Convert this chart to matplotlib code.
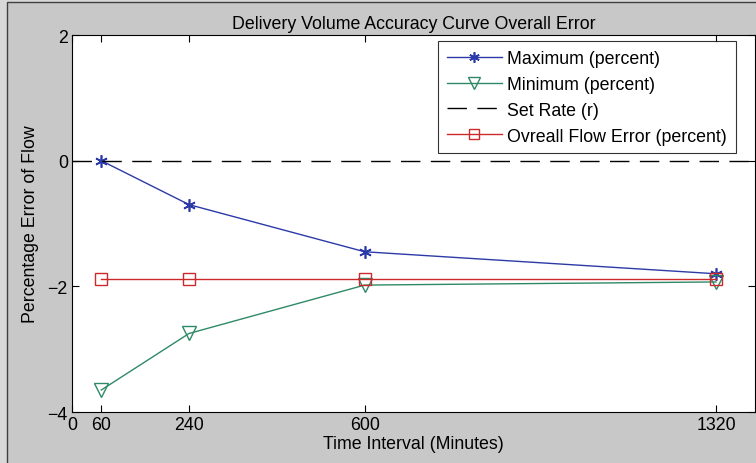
import matplotlib
matplotlib.use("Agg")
import matplotlib.pyplot as plt
from matplotlib.patches import Rectangle

# Data
time_minutes = [60, 240, 600, 1320]
max_percent = [0.0, -0.70, -1.45, -1.80]
min_percent = [-3.65, -2.75, -1.98, -1.93]
overall_percent = [-1.89, -1.89, -1.89, -1.89]
set_rate = [0, 0]
set_rate_x = [0, 1400]

x_ticks = [0, 60, 240, 600, 1320]
y_ticks = [-4, -2, 0, 2]

plt.rcParams["font.family"] = ["Liberation Sans", "DejaVu Sans"]

fig = plt.figure(figsize=(7.56, 4.64), dpi=100)
fig.patch.set_facecolor("#d8d8d8")
# MATLAB-style gray panel with a thin dark frame
frame = Rectangle((7 / 756, -0.01), 1.0, (464 - 3) / 464 + 0.01,
                  transform=fig.transFigure, facecolor="#c8c8c8",
                  edgecolor="#404040", linewidth=1.0, zorder=-10)
fig.patches.append(frame)

ax = fig.add_axes([72 / 756, 51 / 464, (755 - 72) / 756, (413 - 36) / 464])
ax.set_zorder(1)
ax.set_facecolor("white")

ax.plot(time_minutes, max_percent, color="#2b3aa8", marker=(6, 2, 0),
        markersize=9, markeredgewidth=1.2, linewidth=1.0,
        label="Maximum (percent)")
ax.plot(time_minutes, min_percent, color="#2e8a66", marker="v",
        markersize=9.5, markerfacecolor="none", linewidth=1.0,
        label="Minimum (percent)")
ax.plot(set_rate_x, set_rate, color="black", linestyle=(0, (14, 7.5)),
        linewidth=1.0, label="Set Rate (r)")
ax.plot(time_minutes, overall_percent, color="#cc2a2a", marker="s",
        markersize=9, markerfacecolor="none", linewidth=1.0,
        label="Ovreall Flow Error (percent)")

ax.set_xlim(0, 1400)
ax.set_ylim(-4, 2)
ax.set_xticks(x_ticks)
ax.set_yticks(y_ticks)
ax.tick_params(direction="in", top=True, right=True, length=5,
               labelsize=12.8, colors="black", width=0.8, pad=3)
for spine in ax.spines.values():
    spine.set_linewidth(0.8)

ax.set_title("Delivery Volume Accuracy Curve Overall Error", fontsize=12.8, pad=5)
ax.set_xlabel("Time Interval (Minutes)", fontsize=12.8, labelpad=1)
ax.set_ylabel("Percentage Error of Flow", fontsize=12.8, labelpad=6)

leg = ax.legend(loc="upper right", fontsize=12.8, frameon=True, fancybox=False,
                edgecolor="black", handlelength=3.1, borderpad=0.5,
                labelspacing=0.5, handletextpad=0.3, borderaxespad=0,
                markerscale=0.85, bbox_to_anchor=(0.972, 0.984))
leg.get_frame().set_linewidth(0.8)

fig.savefig("out.png", dpi=100, facecolor=fig.get_facecolor())
